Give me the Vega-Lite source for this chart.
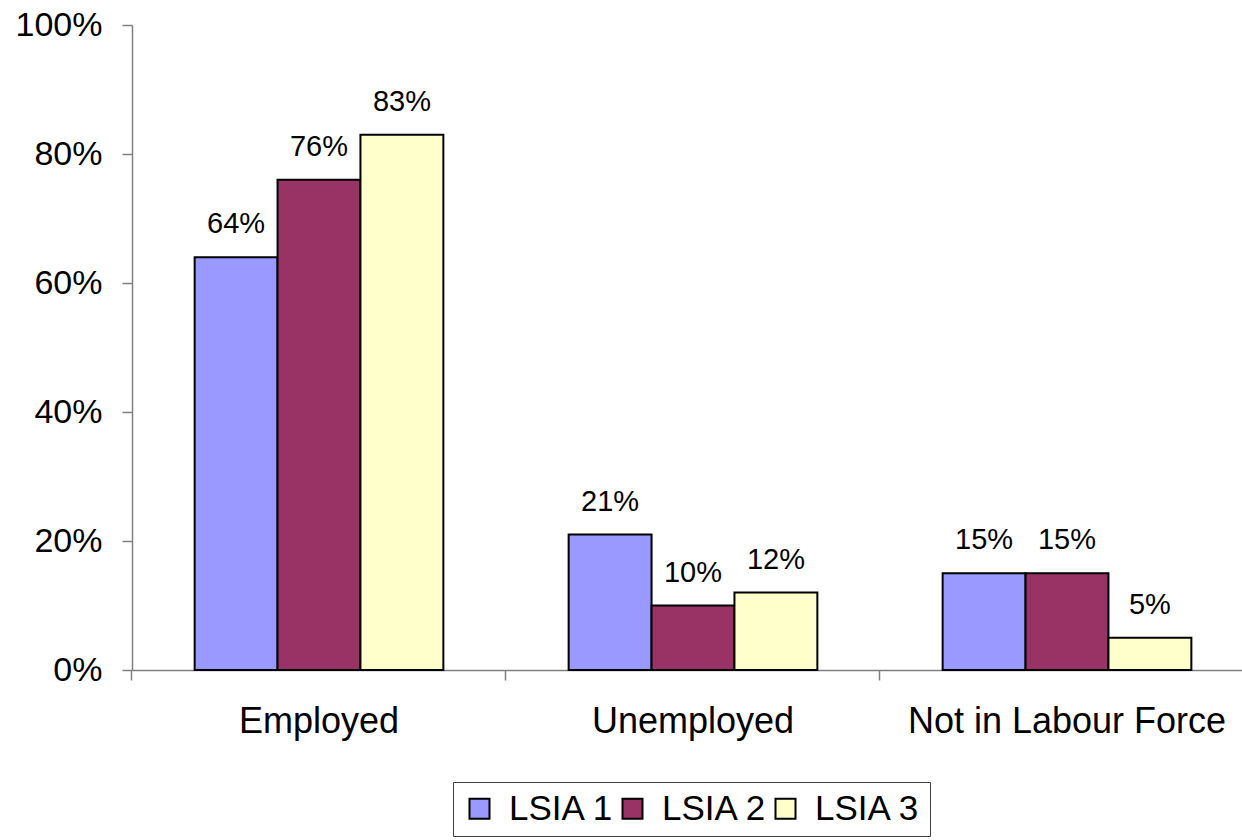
{
  "$schema": "https://vega.github.io/schema/vega-lite/v6.json",
  "width": 1122,
  "height": 645,
  "autosize": {"type": "none"},
  "padding": {"left": 132, "top": 25, "right": 0, "bottom": 170},
  "background": "white",
  "config": {
    "view": {"stroke": null},
    "font": "Liberation Sans",
    "axis": {"labelFont": "Liberation Sans", "labelColor": "black", "domainColor": "#808080", "tickColor": "#808080", "grid": false, "title": null}
  },
  "data": {
    "values": [
      {"Category": "Employed", "Series": "LSIA 1", "Value": 0.64},
      {"Category": "Employed", "Series": "LSIA 2", "Value": 0.76},
      {"Category": "Employed", "Series": "LSIA 3", "Value": 0.83},
      {"Category": "Unemployed", "Series": "LSIA 1", "Value": 0.21},
      {"Category": "Unemployed", "Series": "LSIA 2", "Value": 0.10},
      {"Category": "Unemployed", "Series": "LSIA 3", "Value": 0.12},
      {"Category": "Not in Labour Force", "Series": "LSIA 1", "Value": 0.15},
      {"Category": "Not in Labour Force", "Series": "LSIA 2", "Value": 0.15},
      {"Category": "Not in Labour Force", "Series": "LSIA 3", "Value": 0.05}
    ]
  },
  "encoding": {
    "x": {
      "field": "Category", "type": "nominal", "sort": null,
      "scale": {"paddingInner": 0.335, "paddingOuter": 0.1675},
      "axis": {"labelAngle": 0, "labelFontSize": 36, "labelLimit": 500, "tickSize": 10, "bandPosition": -0.2519, "labelPadding": 24, "labelBaseline": "top", "domainWidth": 1.5, "tickWidth": 1.5}
    },
    "xOffset": {"field": "Series", "type": "nominal", "scale": {"paddingInner": 0, "paddingOuter": 0}},
    "y": {
      "field": "Value", "type": "quantitative",
      "scale": {"domain": [0, 1], "nice": false},
      "axis": {"values": [0, 0.2, 0.4, 0.6, 0.8, 1.0], "format": ".0%", "labelFontSize": 34, "tickSize": 10, "labelPadding": 20, "domainWidth": 1.5, "tickWidth": 1.5}
    }
  },
  "layer": [
    {
      "mark": {"type": "bar", "stroke": "black", "strokeWidth": 2},
      "encoding": {
        "color": {
          "field": "Series", "type": "nominal",
          "scale": {"domain": ["LSIA 1", "LSIA 2", "LSIA 3"], "range": ["#9999FF", "#993366", "#FFFFCC"]},
          "legend": {
            "title": null, "orient": "none", "direction": "horizontal",
            "legendX": 321, "legendY": 757,
            "padding": 9, "strokeColor": "#404040",
            "symbolType": "square", "symbolSize": 400, "symbolStrokeColor": "black", "symbolStrokeWidth": 2,
            "labelFontSize": 35, "labelFont": "Liberation Sans", "labelColor": "black", "labelOffset": 12, "columnPadding": 0, "labelLimit": 300
          }
        }
      }
    },
    {
      "mark": {"type": "text", "fontSize": 29, "font": "Liberation Sans", "color": "black", "baseline": "alphabetic", "dy": -24},
      "encoding": {
        "text": {"field": "Value", "type": "quantitative", "format": ".0%"}
      }
    }
  ]
}
